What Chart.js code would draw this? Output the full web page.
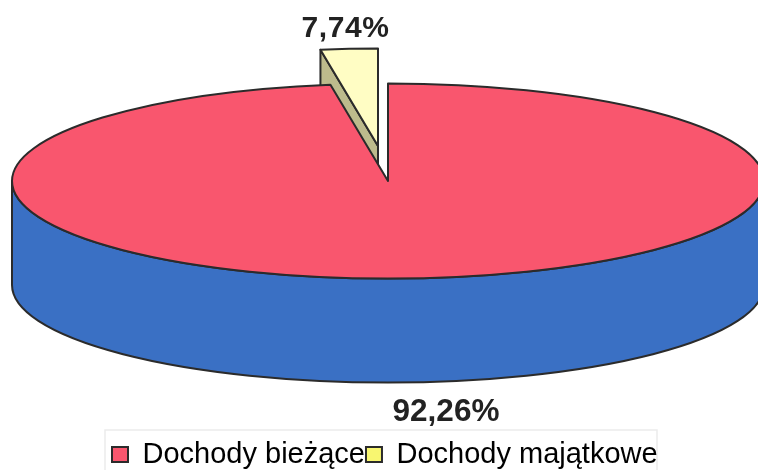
<!DOCTYPE html>
<html>
<head>
<meta charset="utf-8">
<script src="https://cdn.jsdelivr.net/npm/chart.js@4/dist/chart.umd.min.js"></script>
<style>html,body{margin:0;padding:0;background:#fff}canvas{display:block}</style>
</head>
<body>
<canvas id="c" width="758" height="470"></canvas>
<script>
const categories = ['Dochody bieżące', 'Dochody majątkowe'];
const shareValues = [92.26, 7.74];
const valueLabels = ['92,26%', '7,74%'];
const topColors = ['#F9566E', '#FFFDC4'];
const wallColors = ['#3A70C4', '#BDBB8C'];
const legendColors = ['#F9566E', '#F8F670'];
const INK = '#2B2B2B';

// The reference draws its small slice far narrower than its share: keep that look.
const view = { scaleX: 376 / 180, scaleY: 97.5 / 180, depth: 104, smallSliceWidth: 0.316,
               explodeX: -10, explodeY: -35 };
const valueLabelStyle = [
  { x: 446, y: 412, font: 'bold 31.5px "Liberation Sans"', spacing: '0px' },
  { x: 345.5, y: 28.5, font: 'bold 30px "Liberation Sans"', spacing: '0.6px' }
];
const legendFrame = { left: 105, right: 657, top: 430, bottom: 480 };

function sector(ctx, cx, cy, rx, ry, a0, a1) {
  ctx.beginPath();
  ctx.moveTo(cx, cy);
  ctx.ellipse(cx, cy, rx, ry, 0, a0, a1);
  ctx.closePath();
}
function paint(ctx, fill) {
  ctx.fillStyle = fill;
  ctx.fill();
  ctx.strokeStyle = INK;
  ctx.lineWidth = 2;
  ctx.lineJoin = 'round';
  ctx.stroke();
}

const tiltedPie = {
  id: 'tiltedPie',
  afterLayout(chart) {
    const lg = chart.legend;
    lg.left = 111; lg.right = 720; lg.top = 439; lg.bottom = 479;
  },
  beforeDraw(chart) {
    const ctx = chart.ctx, f = legendFrame;
    ctx.save();
    ctx.strokeStyle = '#EBEBEB';
    ctx.lineWidth = 1.5;
    ctx.strokeRect(f.left, f.top, f.right - f.left, f.bottom - f.top);
    ctx.restore();
  },
  beforeDatasetsDraw(chart) {
    const ctx = chart.ctx;
    const [big, small] = chart.getDatasetMeta(0).data;
    const rx = big.outerRadius * view.scaleX, ry = big.outerRadius * view.scaleY;
    const cx = big.x, cy = big.y, d = view.depth;
    const boundary = small.endAngle - (small.endAngle - small.startAngle) * view.smallSliceWidth;
    ctx.save();

    // blue outer wall of the big slice
    ctx.beginPath();
    ctx.ellipse(cx, cy, rx, ry, 0, 0, Math.PI);
    ctx.lineTo(cx - rx, cy + d);
    ctx.ellipse(cx, cy + d, rx, ry, 0, Math.PI, 0, true);
    ctx.closePath();
    paint(ctx, wallColors[0]);

    // exploded small slice: inner wall, then top
    const sx = cx + view.explodeX, sy = cy + view.explodeY;
    const ex = sx + rx * Math.cos(boundary), ey = sy + ry * Math.sin(boundary);
    ctx.beginPath();
    ctx.moveTo(ex, ey);
    ctx.lineTo(sx, sy);
    ctx.lineTo(sx, sy + d);
    ctx.lineTo(ex, ey + d);
    ctx.closePath();
    paint(ctx, wallColors[1]);
    sector(ctx, sx, sy, rx, ry, boundary, small.endAngle);
    paint(ctx, topColors[1]);

    // top of the big slice
    sector(ctx, cx, cy, rx, ry, big.startAngle, boundary);
    paint(ctx, topColors[0]);

    // value labels
    ctx.fillStyle = '#222';
    ctx.textAlign = 'center';
    ctx.textBaseline = 'middle';
    valueLabels.forEach((t, i) => {
      const s = valueLabelStyle[i];
      ctx.font = s.font;
      ctx.letterSpacing = s.spacing;
      ctx.fillText(t, s.x, s.y);
    });
    ctx.restore();
    return false;
  }
};

new Chart(document.getElementById('c'), {
  type: 'pie',
  data: {
    labels: categories,
    datasets: [{ data: shareValues, backgroundColor: topColors, borderColor: INK, borderWidth: 2 }]
  },
  plugins: [tiltedPie],
  options: {
    responsive: false,
    animation: false,
    layout: { padding: { left: 18, right: 0, top: 0, bottom: 68 } },
    plugins: {
      tooltip: { enabled: false },
      legend: {
        position: 'bottom',
        align: 'start',
        labels: {
          boxWidth: 16, boxHeight: 15, padding: 1,
          color: '#222',
          font: { family: '"Liberation Sans"', size: 29 },
          generateLabels(chart) {
            return categories.map((text, i) => ({
              text, index: i, fillStyle: legendColors[i], strokeStyle: INK, lineWidth: 2, hidden: false
            }));
          }
        }
      }
    }
  }
});
</script>
</body>
</html>
